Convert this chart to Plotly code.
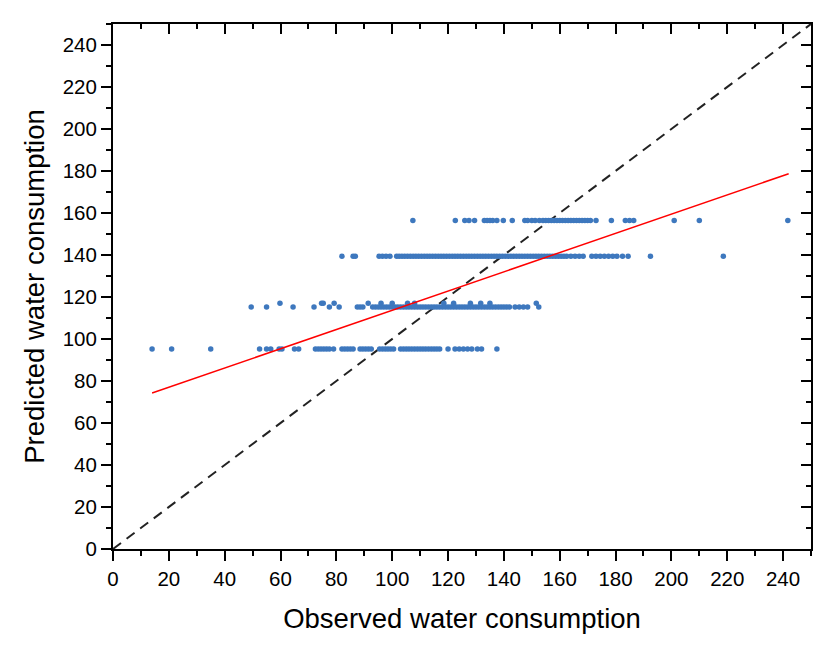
import plotly.graph_objects as go

# ---- data ----
row_95_obs = [14, 21, 35, 52.5, 55, 56.5, 59.5, 60.5, 65, 66.5, 72.5, 73.5, 74.5, 75.5, 76.5, 77.5,
              79, 82, 83, 84, 85, 86, 88.5, 89.5, 90.5, 91.5, 92.5, 95.5, 96.5, 97.5, 98.5, 99.5,
              100.5, 103, 104, 105, 106, 107, 108, 109, 110, 111, 112, 113, 114, 115, 116, 117,
              120, 122.5, 124, 125.5, 127, 128.5, 130.5, 132, 137.5]
row_95_pred = 95.2

row_115_obs = [49.5, 55, 64.5, 72, 77.5, 81, 87.5, 88.5, 89.5, 93, 94, 95, 96, 97, 98, 99, 100,
               101, 102, 103, 104, 105, 106, 107, 108, 109, 110, 111, 112, 113, 114, 115, 116,
               117, 118, 119, 120, 121, 122, 123, 124, 125, 126, 127, 128, 129, 130, 131, 132,
               133, 134, 135, 136, 137, 138, 139, 140, 141, 142, 144, 145.5, 147, 148.5, 152.5]
row_115_pred = 115.2

row_117_obs = [59.8, 74.7, 75.3, 79.2, 91.4, 96, 100, 105.5, 108, 118.5, 122, 128, 131.7, 135, 151.6]
row_117_pred = 117.0

row_139_obs = [82, 86, 86.8, 95.3, 96.5, 97.8, 99.2, 101.6, 102.5, 103.5, 104.5, 105.5, 106.5,
               107.5, 108.5, 109.5, 110.5, 111.5, 112.5, 113.5, 114.5, 115.5, 116.5, 117.5, 118.5,
               119.5, 120.5, 121.5, 122.5, 123.5, 124.5, 125.5, 126.5, 127.5, 128.5, 129.5, 130.5,
               131.5, 132.5, 133.5, 134.5, 135.5, 136.5, 137.5, 138.5, 139.5, 140.5, 141.5, 142.5,
               143.5, 144.5, 145.5, 146.5, 147.5, 148.5, 149.5, 150.5, 151.5, 152.5, 153.5, 154.5,
               155.5, 156.5, 157.5, 158.5, 159.5, 160.5, 161.5, 162.5, 164, 165.5, 167, 168.4,
               171.5, 173, 174.5, 176, 177.5, 179, 180.5, 182.5, 184.5, 192.5, 218.6]
row_139_pred = 139.4

row_156_obs = [107.4, 122.6, 126, 127.5, 129.5, 133, 134, 135, 136, 137.5, 139.8, 143, 147.5, 148.5,
               150, 151.2, 152.7, 154, 155, 156, 157, 158, 159, 160, 161, 162, 163, 164, 165, 166,
               167, 168, 169, 170, 171, 173, 178.5, 183.5, 185, 186.5, 201, 210, 241.7]
row_156_pred = 156.4

fit_x = [14, 242]
fit_y = [74.3, 178.7]

diag_x = [0, 250]
diag_y = [0, 250]

x_ticks = [0, 20, 40, 60, 80, 100, 120, 140, 160, 180, 200, 220, 240]
y_ticks = [0, 20, 40, 60, 80, 100, 120, 140, 160, 180, 200, 220, 240]

# ---- build scatter arrays ----
obs, pred = [], []
for xs, yv in [(row_95_obs, row_95_pred), (row_115_obs, row_115_pred), (row_117_obs, row_117_pred),
               (row_139_obs, row_139_pred), (row_156_obs, row_156_pred)]:
    obs += xs
    pred += [yv] * len(xs)

FONT = "Liberation Sans, Arial, sans-serif"

fig = go.Figure()
fig.add_trace(go.Scatter(x=diag_x, y=diag_y, mode="lines",
                         line=dict(color="#222222", width=2, dash="10px,7px"),
                         showlegend=False, hoverinfo="skip"))
fig.add_trace(go.Scatter(x=obs, y=pred, mode="markers",
                         marker=dict(color="#3E78BE", size=5.5, line=dict(width=0)),
                         showlegend=False))
fig.add_trace(go.Scatter(x=fit_x, y=fit_y, mode="lines",
                         line=dict(color="#FF0000", width=1.5),
                         showlegend=False, hoverinfo="skip"))
fig.add_trace(go.Scatter(x=[None], y=[None], xaxis="x2", yaxis="y2",
                         showlegend=False, hoverinfo="skip"))

common = dict(range=[0, 250], showgrid=False, zeroline=False, showline=True,
              linecolor="black", linewidth=2, tickcolor="black", tickwidth=2)

fig.update_layout(
    width=827, height=649,
    margin=dict(l=113, r=16, t=24, b=100),
    paper_bgcolor="white", plot_bgcolor="white",
    font=dict(family=FONT, color="black"),
    xaxis=dict(**common, tickvals=x_ticks, ticks="outside", ticklen=10,
               minor=dict(dtick=10, tick0=0, ticks="outside", ticklen=5, tickwidth=2, tickcolor="black"),
               tickfont=dict(size=20.5, family=FONT),
               title=dict(text="Observed water consumption", font=dict(size=27.5, family=FONT), standoff=20)),
    yaxis=dict(**common, tickvals=y_ticks, ticks="outside", ticklen=10,
               minor=dict(dtick=10, tick0=0, ticks="outside", ticklen=5, tickwidth=2, tickcolor="black"),
               tickfont=dict(size=20.5, family=FONT),
               title=dict(text="Predicted water consumption", font=dict(size=27.5, family=FONT), standoff=10)),
    xaxis2=dict(**common, overlaying="x", side="top", anchor="y2", tickvals=x_ticks, ticks="inside",
                ticklen=10, showticklabels=False,
                minor=dict(dtick=10, tick0=0, ticks="inside", ticklen=5, tickwidth=2, tickcolor="black")),
    yaxis2=dict(**common, overlaying="y", side="right", anchor="x2", tickvals=y_ticks, ticks="inside",
                ticklen=10, showticklabels=False,
                minor=dict(dtick=10, tick0=0, ticks="inside", ticklen=5, tickwidth=2, tickcolor="black")),
)

fig.write_html("out.html")
